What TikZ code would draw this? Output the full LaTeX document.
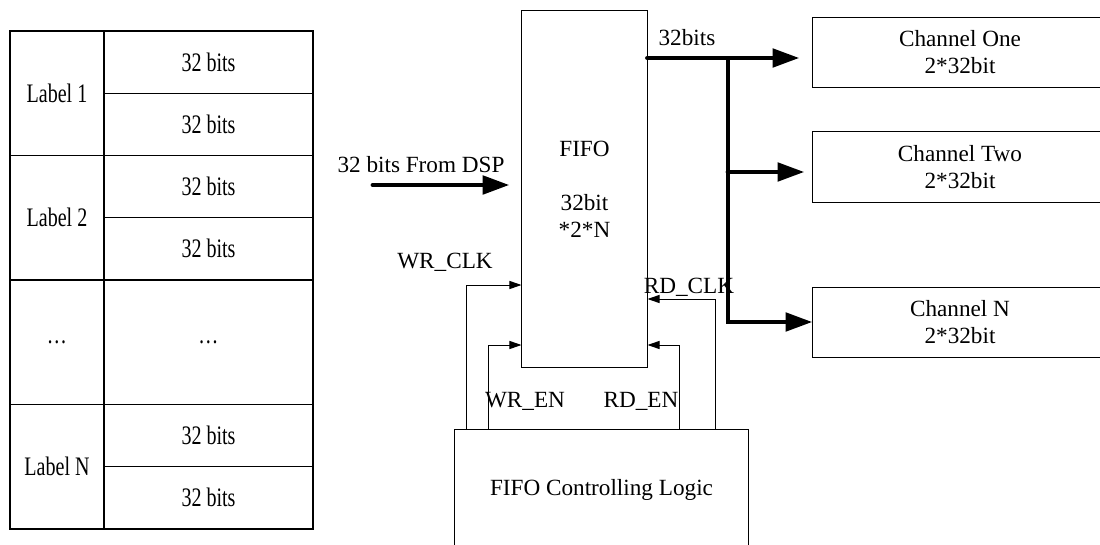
\documentclass[tikz,border=0pt]{standalone}
\usepackage{graphicx}
\usepackage{fontspec}
\setmainfont{Liberation Serif}
\usetikzlibrary{arrows.meta}
\newcommand\narrowtxt[1]{\scalebox{.75}[1]{#1}}
\tikzset{
  box/.style={draw,line width=.7pt,inner sep=0pt,align=center},
  cell/.style={draw,line width=1pt,inner sep=0pt,font=\fontsize{19}{22}\selectfont},
  fat/.style={line width=3.5pt,line cap=round},
  fatarrow/.style={fat,-{Triangle[length=.67cm,width=.45cm]}},
  thinarrow/.style={line width=.7pt,-{Triangle[length=.3cm,width=.2cm]}},
  lab/.style={anchor=base,inner sep=0pt},
}
\begin{document}
\begin{tikzpicture}[x=.025cm,y=-.025cm,font=\fontsize{16.5}{19.2}\selectfont]
	\useasboundingbox (0,0) rectangle (1100,545);
	\clip (0,0) rectangle (1100,545);
	% table of labels
	\foreach \lab/\i in {Label 1/0,Label 2/1,\dots/2,Label N/3}
		\node[cell,minimum width=2.35cm,minimum height=3.1125cm] (lab\i) at (57,{93.25+124.5*\i}) {\narrowtxt{\lab}};
	\foreach \i in {0,1,2,3,6,7}
		\node[cell,minimum width=5.225cm,minimum height=1.556cm] (bits\i) at (208.5,{62.1+62.25*\i}) {\narrowtxt{32 bits}};
	\node[cell,minimum width=5.225cm,minimum height=3.1125cm] (bitsdots) at (208.5,342.25) {\narrowtxt{\dots}};
	% blocks
	\node[box,minimum width=3.125cm,minimum height=8.9cm] (fifo) at (584.5,189) {FIFO\\[19pt]32bit\\{*}2*N};
	\node[box,minimum width=7.35cm,minimum height=1.725cm] (ch1) at (960,52.5) {Channel One\\2*32bit};
	\node[box,minimum width=7.35cm,minimum height=1.75cm] (ch2) at (960,167) {Channel Two\\2*32bit};
	\node[box,minimum width=7.35cm,minimum height=1.75cm] (ch3) at (960,322) {Channel N\\2*32bit};
	\node[box,minimum width=7.325cm,minimum height=3cm] (ctrl) at (601.5,490) {FIFO Controlling Logic};
	% data in
	\coordinate (dsp) at (373,185);
	\draw[fatarrow,shorten >=.3cm] (dsp) -- (dsp -| fifo.west);
	\node[lab] (dsplab) at (421,173) {32 bits From DSP};
	% data out
	\coordinate (o1) at (728,58);
	\coordinate (o2) at (728,172);
	\coordinate (o3) at (728,322);
	\draw[fatarrow] (fifo.east |- o1) -- (o1) -- (o3) -- (o3 -| ch3.west);
	\draw[fatarrow,shorten >=.325cm] (o1) -- (o1 -| ch1.west);
	\draw[fatarrow,shorten >=.2cm] (o2) -- (o2 -| ch2.west);
	\node[lab] (outlab) at (687,46) {32bits};
	% clocks and enables
	\coordinate (wc) at (466,285);
	\coordinate (we) at (488,345);
	\coordinate (re) at (679,345);
	\coordinate (rc) at (715,299);
	\draw[thinarrow] (wc |- ctrl.north) |- (fifo.west |- wc);
	\draw[thinarrow] (we |- ctrl.north) |- (fifo.west |- we);
	\draw[thinarrow] (re |- ctrl.north) |- (fifo.east |- re);
	\draw[thinarrow] (rc |- ctrl.north) |- (fifo.east |- rc);
	\node[lab] (wclab) at (445,268) {WR\_CLK};
	\node[lab] (rclab) at (689,293) {RD\_CLK};
	\node[lab] (welab) at (525,407) {WR\_EN};
	\node[lab] (relab) at (641,407) {RD\_EN};
\end{tikzpicture}
\end{document}
